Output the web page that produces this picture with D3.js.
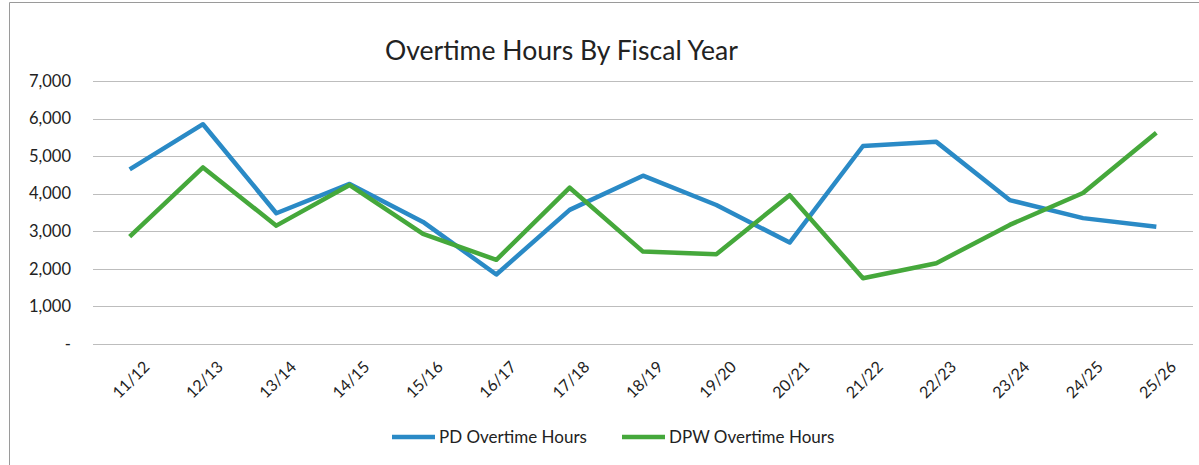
<!DOCTYPE html>
<html>
<head>
<meta charset="utf-8">
<script src="https://cdn.jsdelivr.net/npm/d3@7"></script>
<style>
  body { margin: 0; background: #fff; }
  text { font-family: Lato, "Open Sans", sans-serif; fill: #222; }
</style>
</head>
<body>
<svg id="chart" width="1199" height="465"></svg>
<script>
// Fiscal years on the x axis.
var years = ["11/12", "12/13", "13/14", "14/15", "15/16", "16/17", "17/18", "18/19",
             "19/20", "20/21", "21/22", "22/23", "23/24", "24/25", "25/26"];

// Overtime hours.
var pd_hours  = [4650, 5850, 3480, 4260, 3250, 1850, 3570, 4480,
                 3700, 2700, 5270, 5380, 3830, 3350, 3120];
var dpw_hours = [2860, 4700, 3150, 4230, 2930, 2240, 4160, 2460,
                 2390, 3960, 1750, 2150, 3170, 4020, 5620];

var y_ticks = [0, 1000, 2000, 3000, 4000, 5000, 6000, 7000];

var series = [
  {name: "PD Overtime Hours",  color: "#2a8ac6", values: pd_hours},
  {name: "DPW Overtime Hours", color: "#45a83b", values: dpw_hours}
];

var svg = d3.select("#chart");

// outer frame (scan of an Excel chart)
svg.append("path")
  .attr("d", "M9.5,465 V2.5 H1199")
  .attr("fill", "none")
  .attr("stroke", "#9a9a9a")
  .attr("stroke-width", 1);

var x = d3.scaleBand()
    .domain(years)
    .range([93, 1193]);

var y = d3.scaleLinear()
    .domain([0, 7000])
    .range([344, 81]);

// gridlines
svg.append("g")
  .selectAll("line")
  .data(y_ticks)
  .enter().append("line")
  .attr("x1", 93)
  .attr("x2", 1193)
  .attr("y1", function(d) { return Math.round(y(d)) + 0.5; })
  .attr("y2", function(d) { return Math.round(y(d)) + 0.5; })
  .attr("stroke", "#bdbdbd")
  .attr("stroke-width", 1);

// y axis labels
var yAxis = d3.axisLeft(y)
    .tickValues(y_ticks)
    .tickSize(0)
    .tickPadding(0)
    .tickFormat(function(d) { return d == 0 ? "-" : d3.format(",")(d); });

svg.append("g")
  .attr("transform", "translate(71,0)")
  .call(yAxis)
  .call(function(g) { g.select(".domain").remove(); })
  .selectAll("text")
  .style("font-family", "Lato, sans-serif")
  .style("font-size", "16.5px")
  .attr("fill", "#222");

// x axis labels, rotated
var xAxis = d3.axisBottom(x).tickSize(0).tickPadding(0);

svg.append("g")
  .attr("transform", "translate(0,344)")
  .call(xAxis)
  .call(function(g) { g.select(".domain").remove(); })
  .selectAll("text")
  .style("font-family", "Lato, sans-serif")
  .style("font-size", "16px")
  .attr("fill", "#222")
  .attr("text-anchor", "end")
  .attr("dy", 0)
  .attr("transform", "translate(21,24) rotate(-45)");

// lines
var line = d3.line()
  .x(function(d, i) { return x(years[i]) + x.bandwidth() / 2; })
  .y(function(d) { return y(d); });

svg.append("g")
  .selectAll("path")
  .data(series)
  .enter().append("path")
  .attr("d", function(d) { return line(d.values); })
  .attr("fill", "none")
  .attr("stroke", function(d) { return d.color; })
  .attr("stroke-width", 4.5)
  .attr("stroke-linejoin", "round");

// title
svg.append("text")
  .attr("x", 385)
  .attr("y", 60)
  .attr("textLength", 353)
  .attr("lengthAdjust", "spacingAndGlyphs")
  .style("font-size", "26px")
  .text("Overtime Hours By Fiscal Year");

// legend
var legend_x = [392, 622];
var legend = svg.append("g")
  .selectAll("g")
  .data(series)
  .enter().append("g")
  .attr("transform", function(d, i) { return "translate(" + legend_x[i] + ",437)"; });

legend.append("line")
  .attr("x1", 0).attr("x2", 43)
  .attr("y1", 0).attr("y2", 0)
  .attr("stroke", function(d) { return d.color; })
  .attr("stroke-width", 4.5);

legend.append("text")
  .attr("x", 47)
  .attr("y", 6)
  .style("font-size", "17px")
  .text(function(d) { return d.name; });
</script>
</body>
</html>
